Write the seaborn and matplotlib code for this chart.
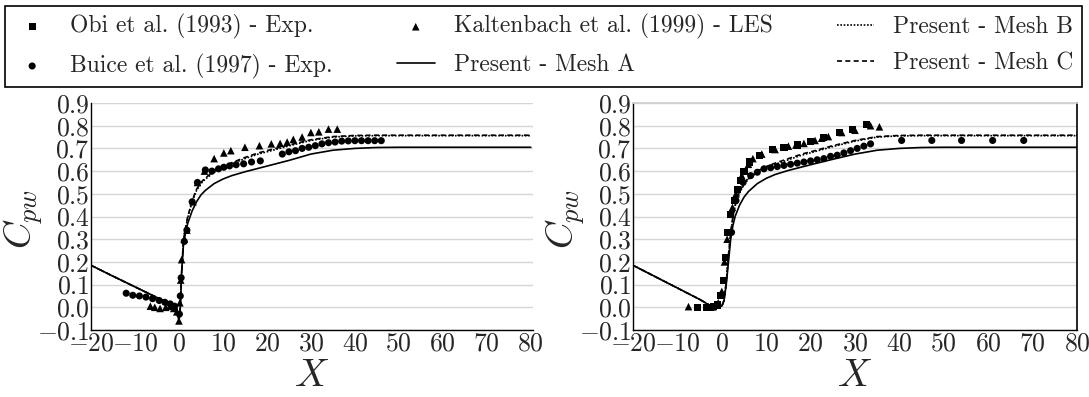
import matplotlib
matplotlib.use("Agg")
import matplotlib.pyplot as plt
import seaborn as sns

# ---------------- data ----------------
# Left panel: simulations
xL_line = [-20, -15, -10, -5, -2, -1, -0.5, 0, 0.3, 0.6, 1.0, 1.5, 2, 3, 4, 5, 6, 8,
           10, 12, 15, 18, 21, 25, 30, 35, 40, 45, 50, 60, 70, 80]
meshA_L = [0.185, 0.137, 0.090, 0.043, 0.015, 0.005, -0.005, -0.06, 0.0, 0.15, 0.27, 0.33,
           0.37, 0.425, 0.465, 0.495, 0.515, 0.545, 0.565, 0.58, 0.597, 0.612, 0.627,
           0.647, 0.675, 0.692, 0.700, 0.704, 0.705, 0.705, 0.705, 0.705]
meshB_L = [0.185, 0.137, 0.090, 0.043, 0.015, 0.005, -0.005, -0.06, 0.0, 0.15, 0.285, 0.345,
           0.395, 0.465, 0.515, 0.545, 0.565, 0.595, 0.615, 0.632, 0.655, 0.675, 0.69,
           0.711, 0.735, 0.75, 0.755, 0.756, 0.756, 0.756, 0.756, 0.756]
meshC_L = [0.185, 0.137, 0.090, 0.043, 0.015, 0.005, -0.005, -0.06, 0.0, 0.15, 0.29, 0.35,
           0.40, 0.47, 0.52, 0.55, 0.57, 0.60, 0.62, 0.637, 0.66, 0.68, 0.695, 0.715,
           0.738, 0.752, 0.757, 0.758, 0.758, 0.758, 0.758, 0.758]

# Left panel: experiments / LES
buiceL_x = [-12, -10.5, -9, -7.5, -6, -4.5, -3.2, -2, -1, 0.1, 0.3, 0.5, 1.2, 1.8, 3.0,
            4.2, 6.0, 7.5, 9.0, 10.2, 11.5, 13.0, 14.7, 16.5, 18.5, 23.5, 25.0, 26.5,
            28.0, 29.5, 31.0, 32.5, 34.0, 35.5, 37.0, 38.5, 40.0, 41.5, 43.0, 44.5, 46.0]
buiceL_y = [0.062, 0.053, 0.05, 0.045, 0.038, 0.03, 0.022, 0.015, 0.005, -0.03, 0.05,
            0.13, 0.29, 0.34, 0.465, 0.55, 0.605, 0.60, 0.61, 0.617, 0.623, 0.628, 0.632,
            0.64, 0.645, 0.675, 0.685, 0.69, 0.70, 0.705, 0.712, 0.72, 0.725, 0.728,
            0.732, 0.733, 0.734, 0.734, 0.734, 0.734, 0.734]
kaltL_x = [-6.5, -5.5, -4.3, -3, -2, -1.2, -0.5, 0, 0.2, 0.4, 0.6, 1.2, 1.8, 3.2, 4.2,
           5.8, 8, 10.2, 11.8, 15, 18.3, 21, 23, 24.6, 26, 28, 30, 31.8, 34, 36]
kaltL_y = [0.005, 0.0, -0.005, 0.0, 0.005, -0.005, -0.02, -0.06, 0.02, 0.12, 0.21, 0.30,
           0.34, 0.465, 0.55, 0.60, 0.655, 0.68, 0.69, 0.705, 0.712, 0.72, 0.722, 0.728,
           0.74, 0.75, 0.77, 0.773, 0.785, 0.785]

# Right panel: simulations
xR_line = [-20, -15, -10, -5, -3, -2, -1, 0, 0.5, 1.0, 1.5, 2, 2.5, 3, 4, 5, 6, 8,
           10, 12, 15, 18, 21, 25, 30, 35, 40, 45, 50, 60, 70, 80]
meshA_R = [0.185, 0.135, 0.085, 0.035, 0.012, 0.006, 0.004, 0.005, 0.03, 0.10, 0.20,
           0.30, 0.36, 0.40, 0.45, 0.485, 0.51, 0.545, 0.568, 0.585, 0.603, 0.618, 0.633,
           0.652, 0.675, 0.692, 0.700, 0.704, 0.705, 0.705, 0.705, 0.705]
meshB_R = [0.185, 0.135, 0.085, 0.035, 0.012, 0.006, 0.004, 0.005, 0.03, 0.11, 0.225,
           0.325, 0.395, 0.445, 0.505, 0.54, 0.565, 0.595, 0.615, 0.63, 0.65, 0.67,
           0.686, 0.708, 0.732, 0.75, 0.755, 0.756, 0.756, 0.756, 0.756, 0.756]
meshC_R = [0.185, 0.135, 0.085, 0.035, 0.012, 0.006, 0.004, 0.005, 0.03, 0.11, 0.23,
           0.33, 0.40, 0.45, 0.51, 0.545, 0.57, 0.60, 0.62, 0.635, 0.655, 0.675, 0.69,
           0.712, 0.735, 0.752, 0.757, 0.758, 0.758, 0.758, 0.758, 0.758]

# Right panel: experiments / LES
obiR_x = [-5.5, -3.5, -2.5, -1.8, -1.0, -0.3, 0.3, 0.8, 1.3, 2.0, 2.8, 3.5, 4.2, 5.0,
          6.2, 8.5, 11.5, 14, 17, 20, 23, 26.5, 29.5, 32.5]
obiR_y = [0.0, 0.0, 0.0, 0.002, 0.01, 0.05, 0.12, 0.22, 0.33, 0.41, 0.47, 0.52, 0.56,
          0.60, 0.64, 0.67, 0.695, 0.705, 0.715, 0.73, 0.75, 0.77, 0.785, 0.805]
kaltR_x = [-7.5, -2, -0.8, 0, 0.6, 1.2, 2.4, 3.2, 4.5, 6, 7, 9, 12, 15, 16.7, 18.5, 21,
           22.5, 24, 27, 30, 33.5, 35.5]
kaltR_y = [0.003, 0.002, 0.02, 0.07, 0.20, 0.30, 0.44, 0.50, 0.58, 0.63, 0.655, 0.675,
           0.695, 0.71, 0.715, 0.722, 0.735, 0.745, 0.752, 0.77, 0.78, 0.80, 0.795]
buiceR_x = [2.2, 3.2, 4.8, 6.5, 8, 9.5, 11, 12.5, 14, 15.5, 17, 18.5, 20, 21.5, 23, 24.5,
            26, 27.5, 29, 30.5, 32, 33.5, 40.5, 47.3, 54, 61, 68]
buiceR_y = [0.33, 0.47, 0.55, 0.58, 0.595, 0.61, 0.615, 0.62, 0.625, 0.63, 0.635, 0.64,
            0.645, 0.65, 0.655, 0.665, 0.67, 0.68, 0.69, 0.70, 0.71, 0.72, 0.735, 0.735,
            0.735, 0.735, 0.735]

labels = {
    "obi": "Obi et al. (1993) - Exp.",
    "buice": "Buice et al. (1997) - Exp.",
    "kalt": "Kaltenbach et al. (1999) - LES",
    "A": "Present - Mesh A",
    "B": "Present - Mesh B",
    "C": "Present - Mesh C",
}

xticks = [-20, -10, 0, 10, 20, 30, 40, 50, 60, 70, 80]
yticks = [-0.1, 0.0, 0.1, 0.2, 0.3, 0.4, 0.5, 0.6, 0.7, 0.8, 0.9]
xtick_labels = ["$-20$", "$-10$", "$0$", "$10$", "$20$", "$30$", "$40$", "$50$",
                "$60$", "$70$", "$80$"]
ytick_labels = ["$-0.1$", "$0.0$", "$0.1$", "$0.2$", "$0.3$", "$0.4$", "$0.5$",
                "$0.6$", "$0.7$", "$0.8$", "$0.9$"]

# ---------------- style ----------------
sns.set_theme(style="whitegrid")
plt.rcParams.update({
    "font.family": "serif",
    "font.serif": ["cmr10"],
    "mathtext.fontset": "cm",
    "axes.formatter.use_mathtext": True,
})

W, H = 1089, 397
fig = plt.figure(figsize=(W / 100, H / 100), dpi=100)
axL = fig.add_axes([91 / W, 1 - 330 / H, 442 / W, 227 / H])
axR = fig.add_axes([633 / W, 1 - 330 / H, 444 / W, 227 / H])

line_kw = dict(color="black", linewidth=1.2, legend=False, sort=False)
sq_kw = dict(marker="s", s=26, color="black", edgecolor="none", legend=False)
ci_kw = dict(marker="o", s=26, color="black", edgecolor="none", legend=False)
tr_kw = dict(marker="^", s=30, color="black", edgecolor="none", legend=False)


def draw_sim(ax, x, a, b, c):
    sns.lineplot(x=x, y=a, ax=ax, label=labels["A"], linestyle="-", **line_kw)
    sns.lineplot(x=x, y=b, ax=ax, label=labels["B"], linestyle=(0, (1, 1)), **line_kw)
    sns.lineplot(x=x, y=c, ax=ax, label=labels["C"], linestyle=(0, (3, 2)), **line_kw)


# left panel
sns.scatterplot(x=buiceL_x, y=buiceL_y, ax=axL, label=labels["buice"], **ci_kw)
sns.scatterplot(x=kaltL_x, y=kaltL_y, ax=axL, label=labels["kalt"], **tr_kw)
draw_sim(axL, xL_line, meshA_L, meshB_L, meshC_L)

# right panel (order matters for the legend)
sns.scatterplot(x=obiR_x, y=obiR_y, ax=axR, label=labels["obi"], **sq_kw)
sns.scatterplot(x=buiceR_x, y=buiceR_y, ax=axR, label=labels["buice"], **ci_kw)
sns.scatterplot(x=kaltR_x, y=kaltR_y, ax=axR, label=labels["kalt"], **tr_kw)
draw_sim(axR, xR_line, meshA_R, meshB_R, meshC_R)

for ax in (axL, axR):
    ax.set_xlim(-20, 80.5)
    ax.set_ylim(-0.1, 0.9)
    ax.set_xticks(xticks)
    ax.set_xticklabels(xtick_labels)
    ax.set_yticks(yticks)
    ax.set_yticklabels(ytick_labels)
    ax.tick_params(axis="both", labelsize=18.5, pad=1, length=0)
    ax.grid(axis="y", color="#d6d6d6", linewidth=1.0)
    ax.grid(axis="x", visible=False)
    ax.set_xlabel("$X$", fontsize=28)
    ax.set_ylabel("$C_{pw}$", fontsize=27)
    ax.xaxis.set_label_coords(0.5, -0.125)
    ax.yaxis.set_label_coords(-0.104, 0.49)
    for side in ("left", "bottom"):
        ax.spines[side].set_color("black")
        ax.spines[side].set_linewidth(1.0)
    ax.set_facecolor("white")

axR.set_xlim(-20, 80)
axL.spines["top"].set_visible(False)
axL.spines["right"].set_visible(False)
axR.spines["top"].set_color("#cfcfcf")
axR.spines["right"].set_color("black")
axR.spines["right"].set_linewidth(1.2)

handles, labs = axR.get_legend_handles_labels()
leg = fig.legend(handles, labs, loc="lower left",
                 bbox_to_anchor=(5 / W, 1 - 87 / H, 1077 / W, 84 / H),
                 mode="expand", ncol=3, fontsize=17, frameon=True, fancybox=False,
                 edgecolor="black", framealpha=1, borderaxespad=0, borderpad=0.35,
                 labelspacing=0.6, handlelength=1.6, handletextpad=0.8,
                 columnspacing=1.0, markerscale=1.0)
leg.get_frame().set_linewidth(1.2)

fig.savefig("out.png", dpi=100)
